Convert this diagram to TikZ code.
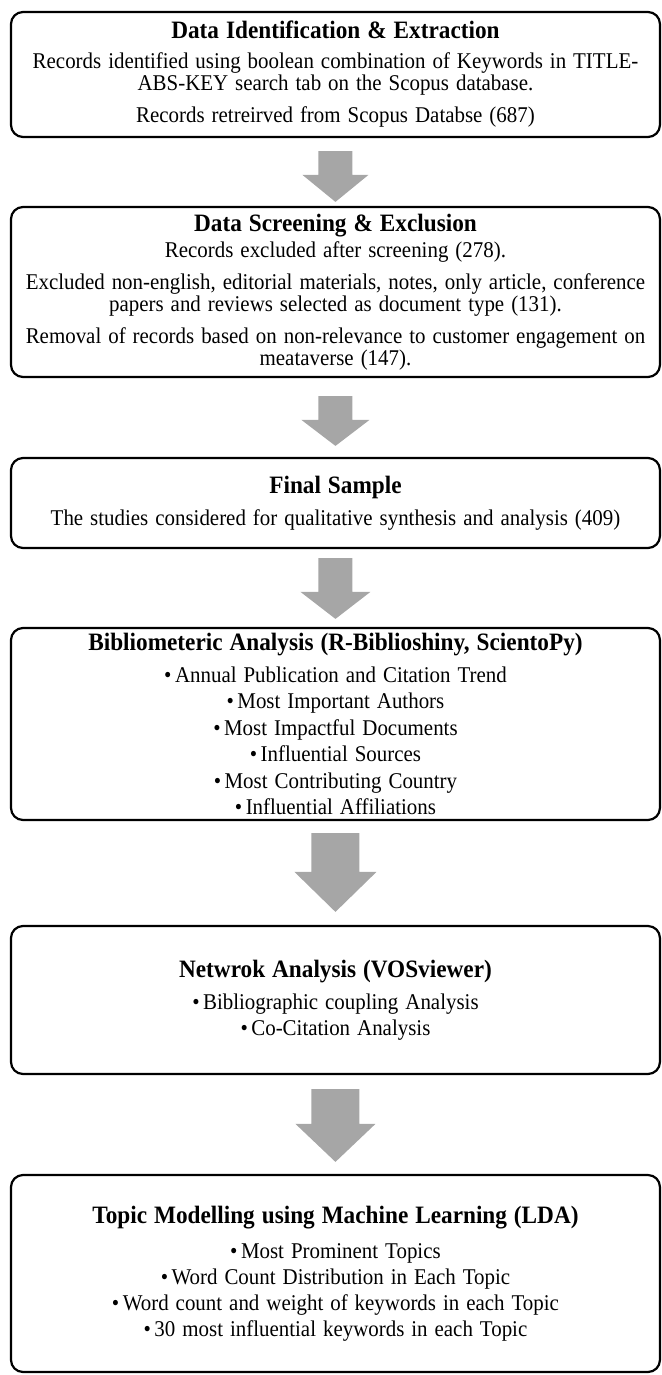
\documentclass[tikz,border=0pt]{standalone}
\usepackage{fontspec}
\setmainfont{Liberation Serif}
\definecolor{arrowgray}{RGB}{166,166,166}
\newcommand{\stagetitle}[1]{{\fontsize{25}{22}\selectfont\bfseries #1}}
\tikzset{
  stagebox/.style={draw, line width=2.2pt, rounded corners=12pt, minimum width=697.8pt,
    text width=688pt, inner xsep=4.9pt, inner ysep=0pt, align=center,
    font=\fontsize{22.5}{22}\selectfont},
  flowarrow/.style={fill=arrowgray, draw=none}
}

\begin{document}
\begin{tikzpicture}[x=1pt,y=1pt,xscale=0.93,transform shape]
		\useasboundingbox (0,0) rectangle (711.8,-1375);
		\coordinate (c_ident) at (360.75,-74.5);
		\coordinate (c_screen) at (360.75,-292);
		\coordinate (c_final) at (360.75,-503);
		\coordinate (c_biblio) at (360.75,-724);
		\coordinate (c_network) at (360.75,-1000);
		\coordinate (c_topic) at (360.75,-1273.5);

		\node[stagebox,minimum height=125pt] (ident) at (c_ident) {\stagetitle{Data Identification \& Extraction}\\[8pt]
			Records identified using boolean combination of Keywords in TITLE-\\ABS-KEY search tab on the Scopus database.\\[10pt]
			Records retreirved from Scopus Databse (687)};
		\node[stagebox,minimum height=170pt] (screen) at (c_screen) {\stagetitle{Data Screening \& Exclusion}\\[4pt]
			Records excluded after screening (278).\\[10pt]
			Excluded non-english, editorial materials, notes, only article, conference\\papers and reviews selected as document type (131).\\[10pt]
			Removal of records based on non-relevance to customer engagement on\\meataverse (147).};
		\node[stagebox,minimum height=90pt] (final) at (c_final) {\stagetitle{Final Sample}\\[10pt]
			The studies considered for qualitative synthesis and analysis (409)};
		\node[stagebox,minimum height=192pt] (biblio) at (c_biblio) {\stagetitle{Bibliometeric Analysis (R-Biblioshiny, ScientoPy)}\\[10pt]
			\textbullet\,Annual Publication and Citation Trend\\[4.5pt]
			\textbullet\,Most Important Authors\\[4.5pt]
			\textbullet\,Most Impactful Documents\\[4.5pt]
			\textbullet\,Influential Sources\\[4.5pt]
			\textbullet\,Most Contributing Country\\[4.5pt]
			\textbullet\,Influential Affiliations};
		\node[stagebox,minimum height=148pt] (network) at (c_network) {\stagetitle{Netwrok Analysis (VOSviewer)}\\[10pt]
			\textbullet\,Bibliographic coupling Analysis\\[4pt]
			\textbullet\,Co-Citation Analysis};
		\node[stagebox,minimum height=197pt] (topic) at (c_topic) {\stagetitle{Topic Modelling using Machine Learning (LDA)}\\[13pt]
			\textbullet\,Most Prominent Topics\\[4pt]
			\textbullet\,Word Count Distribution in Each Topic\\[4pt]
			\textbullet\,Word count and weight of keywords in each Topic\\[4pt]
			\textbullet\,30 most influential keywords in each Topic};

		% block arrows: from/to/top gap/bottom gap/half shaft/half head/head length
		\foreach \from/\to/\gt/\gb/\sw/\hw/\hl in {ident/screen/13/4/18.3/35.5/27, screen/final/18/11/18.3/36.6/26, final/biblio/9/8/18.3/37.6/27, biblio/network/12/13/25.8/44.1/40, network/topic/14/12/25.8/43/38}
			\fill[flowarrow] ([shift={(-\sw,-\gt)}]\from.south) -- ([shift={(\sw,-\gt)}]\from.south) -- ([shift={(\sw,\gb+\hl)}]\to.north) -- ([shift={(\hw,\gb+\hl)}]\to.north) -- ([shift={(0,\gb)}]\to.north) -- ([shift={(-\hw,\gb+\hl)}]\to.north) -- ([shift={(-\sw,\gb+\hl)}]\to.north) -- cycle;
\end{tikzpicture}
\end{document}
